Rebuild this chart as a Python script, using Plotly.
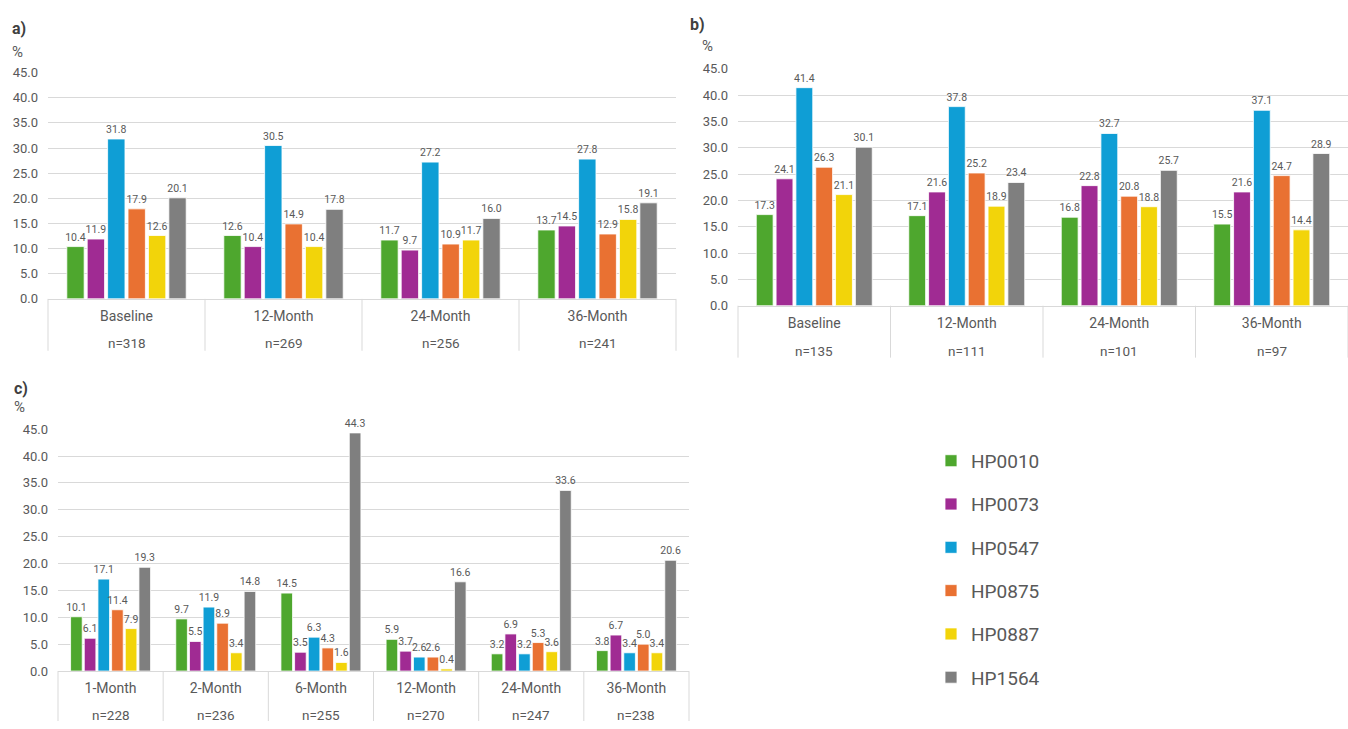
import plotly.graph_objects as go

series_names = ["HP0010", "HP0073", "HP0547", "HP0875", "HP0887", "HP1564"]
series_colors = ["#4EA72E", "#A02B93", "#0F9ED5", "#E97132", "#F2D40A", "#7F7F7F"]

a_categories = ["Baseline", "12-Month", "24-Month", "36-Month"]
a_counts = ["n=318", "n=269", "n=256", "n=241"]
a_values = [
    [10.4, 12.6, 11.7, 13.7],
    [11.9, 10.4, 9.7, 14.5],
    [31.8, 30.5, 27.2, 27.8],
    [17.9, 14.9, 10.9, 12.9],
    [12.6, 10.4, 11.7, 15.8],
    [20.1, 17.8, 16.0, 19.1],
]

b_categories = ["Baseline", "12-Month", "24-Month", "36-Month"]
b_counts = ["n=135", "n=111", "n=101", "n=97"]
b_values = [
    [17.3, 17.1, 16.8, 15.5],
    [24.1, 21.6, 22.8, 21.6],
    [41.4, 37.8, 32.7, 37.1],
    [26.3, 25.2, 20.8, 24.7],
    [21.1, 18.9, 18.8, 14.4],
    [30.1, 23.4, 25.7, 28.9],
]

c_categories = ["1-Month", "2-Month", "6-Month", "12-Month", "24-Month", "36-Month"]
c_counts = ["n=228", "n=236", "n=255", "n=270", "n=247", "n=238"]
c_values = [
    [10.1, 9.7, 14.5, 5.9, 3.2, 3.8],
    [6.1, 5.5, 3.5, 3.7, 6.9, 6.7],
    [17.1, 11.9, 6.3, 2.6, 3.2, 3.4],
    [11.4, 8.9, 4.3, 2.6, 5.3, 5.0],
    [7.9, 3.4, 1.6, 0.4, 3.6, 3.4],
    [19.3, 14.8, 44.3, 16.6, 33.6, 20.6],
]

y_ticks = [0, 5, 10, 15, 20, 25, 30, 35, 40, 45]

W, H = 1348, 729
FONT = "Roboto, Noto Sans, sans-serif"
GRID = "#D9D9D9"
TXT = "#595959"

panels = [
    # key, categories, counts, values, x px range, y px (top 45, bottom 0), label pos, % pos, n shift, separator length
    ("a", a_categories, a_counts, a_values, (48, 676), (67, 298), (10, 22), (10, 46), 44, 53),
    ("b", b_categories, b_counts, b_values, (738, 1348), (63, 305), (688, 18), (700, 40), 45, 53),
    ("c", c_categories, c_counts, c_values, (58, 689), (431, 678), (12, 390), (12, 408), 44, 51),
]

fig = go.Figure()
annotations = []
shapes = []

for idx, (key, cats, counts, vals, xr, yr, lab, pct, s2, seplen) in enumerate(panels):
    ax = "" if idx == 0 else str(idx + 1)
    xname, yname = "x" + ax, "y" + ax
    for si, name in enumerate(series_names):
        fig.add_trace(go.Bar(
            x=list(range(len(cats))), y=vals[si], name=name,
            marker=dict(color=series_colors[si], line=dict(color="white", width=0.8)),
            text=vals[si], texttemplate="%{y:.1f}", textposition="outside",
            textangle=0, constraintext="none", cliponaxis=False,
            textfont=dict(size=10.5, color=TXT, family=FONT),
            xaxis=xname, yaxis=yname, showlegend=(idx == 2),
            legendgroup=name, hoverinfo="skip",
        ))
    xdom = [xr[0] / W, xr[1] / W]
    ydom = [1 - yr[1] / H, 1 - yr[0] / H]
    fig.update_layout(**{
        "xaxis" + ax: dict(
            domain=xdom, anchor=yname, range=[-0.5, len(cats) - 0.5],
            tickvals=list(range(len(cats))), ticktext=cats, showgrid=False,
            showline=True, linecolor=GRID, linewidth=1, ticks="", zeroline=False,
            tickfont=dict(size=14, color=TXT, family=FONT), ticklabelstandoff=4,
            fixedrange=True,
        ),
        "yaxis" + ax: dict(
            domain=ydom, anchor=xname, range=[0, 45], tickvals=y_ticks,
            tickformat=".1f", showgrid=True, gridcolor=GRID, gridwidth=1,
            zeroline=False, showline=False, ticks="",
            tickfont=dict(size=13, color=TXT, family=FONT), ticklabelstandoff=9,
            fixedrange=True,
        ),
    })
    for ci, n in enumerate(counts):
        annotations.append(dict(
            x=ci, y=0, xref=xname, yref=yname, text=n, showarrow=False,
            yshift=-s2, yanchor="middle", xanchor="center",
            font=dict(size=13.5, color=TXT, family=FONT),
        ))
    ncat = len(cats)
    for bi in range(ncat + 1):
        shapes.append(dict(
            type="line", xref=xname + " domain", yref="paper",
            x0=bi / ncat, x1=bi / ncat,
            y0=ydom[0], y1=ydom[0] - seplen / H,
            line=dict(color=GRID, width=1), layer="above",
        ))
    annotations.append(dict(
        x=lab[0] / W, y=1 - lab[1] / H, xref="paper", yref="paper", text="<b>" + key + ")</b>",
        showarrow=False, xanchor="left", yanchor="middle",
        font=dict(size=16, color="#404040", family=FONT),
    ))
    annotations.append(dict(
        x=pct[0] / W, y=1 - pct[1] / H, xref="paper", yref="paper", text="%",
        showarrow=False, xanchor="left", yanchor="middle",
        font=dict(size=15, color=TXT, family=FONT),
    ))

fig.update_layout(
    width=W, height=H, margin=dict(l=0, r=0, t=0, b=0),
    paper_bgcolor="white", plot_bgcolor="white",
    barmode="group", bargap=0.22, bargroupgap=0.15,
    annotations=annotations, shapes=shapes,
    legend=dict(
        x=931 / W, y=1 - 444 / H, xanchor="left", yanchor="top",
        font=dict(size=19, color=TXT, family=FONT),
        tracegroupgap=15.6, bgcolor="rgba(0,0,0,0)",
    ),
    font=dict(family=FONT, color=TXT),
)

fig.write_html("out.html")
